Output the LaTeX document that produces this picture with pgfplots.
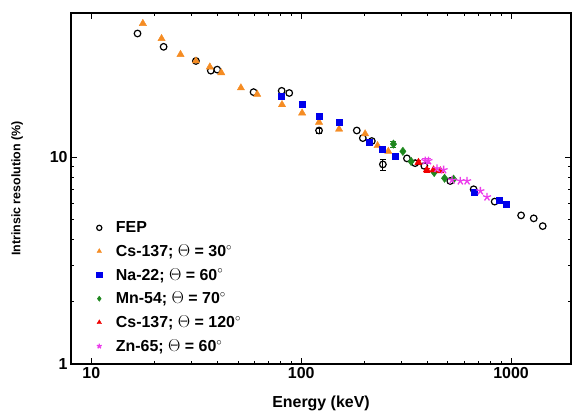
\documentclass[border=0pt]{standalone}
\usepackage{fontspec}
\setmainfont{Liberation Sans}
\usepackage{pgfplots}
\pgfplotsset{compat=1.18}
\definecolor{cOrange}{RGB}{245,140,35}
\definecolor{cBlue}{RGB}{0,0,235}
\definecolor{cGreen}{RGB}{30,135,30}
\definecolor{cRed}{RGB}{240,0,0}
\definecolor{cMag}{RGB}{235,60,235}
\begin{document}
\begin{tikzpicture}
\begin{axis}[name=ax, xmode=log, ymode=log, scale only axis,
  width=500bp, height=351bp,
  xmin=8, xmax=1930, ymin=1, ymax=50,
  xtick={10,100,1000}, ytick={1,10},
  log ticks with fixed point,
  /pgf/number format/1000 sep={},
  /pgf/number format/assume math mode=true,
  tick align=inside,
  major tick length=6bp, minor tick length=3.5bp,
  axis line style={line width=1.3bp},
  tick style={line width=1bp, black},
  ticklabel style={font=\fontsize{16}{18}\selectfont\bfseries},
  xlabel={Energy (keV)}, ylabel={Intrinsic resolution (\%)},
  xlabel style={font=\fontsize{16}{18}\selectfont\bfseries, yshift=-10bp},
  ylabel style={font=\fontsize{12.5}{14}\selectfont\bfseries, yshift=20bp},
  legend cell align=left,
  legend image post style={mark size=2.6bp},
  legend style={at={(0.045,0.02)}, anchor=south west, draw=none, fill=none,
    font=\fontsize{16}{18}\selectfont\bfseries, row sep=6.5bp,
    /tikz/every odd column/.append style={column sep=12bp}},
  error bars/y dir=both, error bars/y explicit,
  error bars/error bar style={line width=0.8bp},
  error bars/error mark options={rotate=90, mark size=3bp},
]
% FEP
\addplot[only marks, mark=o, mark size=3.3bp, black, line width=1.2bp, error bars/error bar style={black}] coordinates {
(16.6,39.8) (22.1,34.3) (31.5,29.3) (37.1,26.3) (39.8,26.6) (59.3,20.7) (80.7,21.0) (87.7,20.5)
(121.6,13.5) +- (0,0.35)
(184,13.5) (196.6,12.4) (217,12.0)
(245,9.25) +- (0,0.55)
(319,9.89) (349,9.38) (386,9.1) (513,7.69) (663,7.01) (835,6.11) (1116,5.24) (1282,5.07) (1415,4.65)
};
\addlegendentry{FEP}
% Cs-137 30
\addplot[only marks, mark=triangle*, mark size=4.2bp, color=cOrange] coordinates {
(17.6,44.5) (21.6,37.6) (26.6,31.5) (31.5,29.3) (36.7,27.4) (41.6,25.7) (51.6,21.7) (61.7,20.2)
(81.0,18.0) (101,16.4) (121.6,14.8) (151.5,13.7) (201.6,13.0) (231,11.4) (260,10.7)
};
\addlegendentry{Cs-137; $\Theta$ = 30$^{\circ}$}
% Na-22 60
\addplot[only marks, mark=square*, mark size=3bp, color=cBlue] coordinates {
(80.7,19.8) (100.9,18.1) (121.6,15.9) (151.5,14.8) (211,11.8) (242,10.9) (280,10.1)
(670,6.76) (873,6.22) (950,5.93)
};
\addlegendentry{Na-22; $\Theta$ = 60$^{\circ}$}
% Mn-54 70
\addplot[only marks, mark=diamond*, mark size=4.2bp, color=cGreen, error bars/error bar style={cGreen}] coordinates {
(275,11.6) +- (0,0.4)
(305,10.7) (334,9.56) (430,8.45) (482,7.93) (532,7.85)
};
\addlegendentry{Mn-54; $\Theta$ = 70$^{\circ}$}
% Cs-137 120
\addplot[only marks, mark=triangle*, mark size=4.2bp, color=cRed, error bars/error bar style={cRed}] coordinates {
(362,9.46) +- (0,0.2)
(397,8.7) +- (0,0.2)
(427,8.7) (460,8.61)
};
\addlegendentry{Cs-137; $\Theta$ = 120$^{\circ}$}
% Zn-65 60
\addplot[only marks, mark=star, mark size=4.2bp, color=cMag, line width=1.3bp, error bars/error bar style={cMag}] coordinates {
(390,9.63) +- (0,0.3)
(404,9.63) +- (0,0.3)
(444,8.84) (477,8.7) (523,7.76) (573,7.69) (617,7.69) (714,6.88) (768,6.43)
};
\addlegendentry{Zn-65; $\Theta$ = 60$^{\circ}$}
\end{axis}
\pgfresetboundingbox
\path ([shift={(-71bp,-55bp)}]ax.south west) rectangle ([shift={(5bp,13bp)}]ax.north east);
\end{tikzpicture}
\end{document}
